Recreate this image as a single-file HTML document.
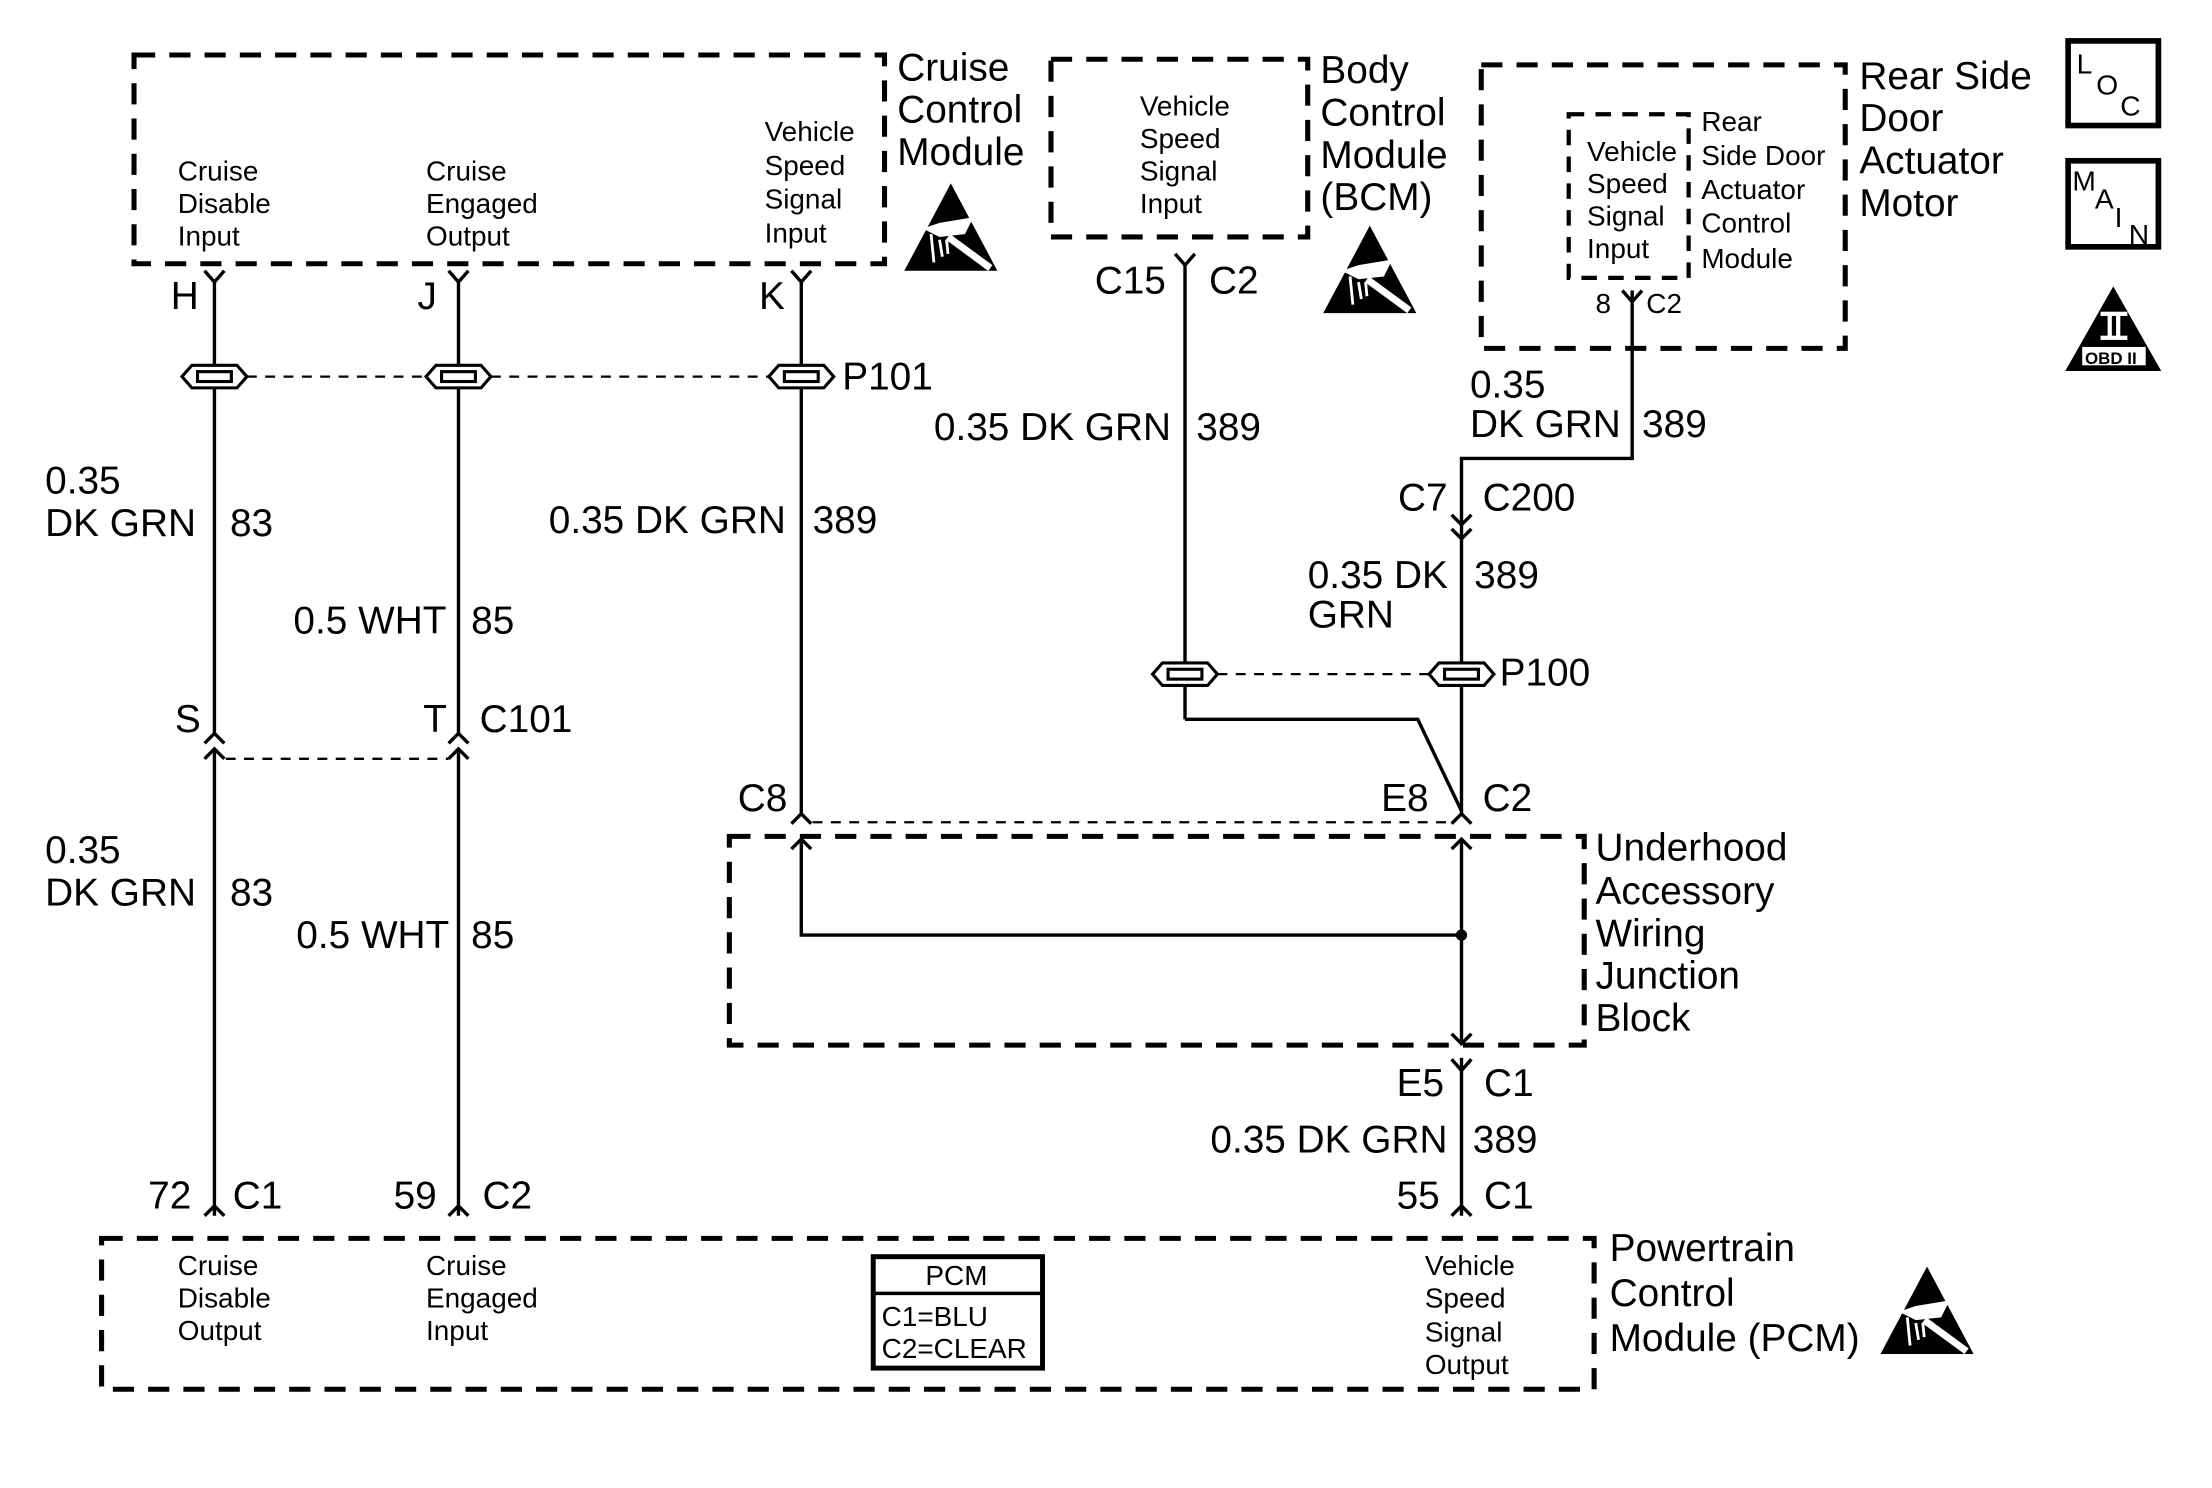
<!DOCTYPE html>
<html><head><meta charset="utf-8"><style>
html,body{margin:0;padding:0;background:#fff}
svg{display:block}
text{font-family:"Liberation Sans",Arial,sans-serif;fill:#000}
.b{font-size:27.5px}
.s{font-size:19.8px}
.w{stroke:#000;stroke-width:2.4;fill:none}
.d{stroke:#000;stroke-width:3.6;fill:none;stroke-dasharray:15,10}
.t{stroke:#000;stroke-width:1.6;fill:none;stroke-dasharray:7,6}
.sp{stroke:#000;stroke-width:2.2;fill:#fff}
</style></head><body>
<svg width="2212" height="1488" viewBox="0 0 1568 1055" preserveAspectRatio="none" xmlns="http://www.w3.org/2000/svg">
<defs>
<g id="splice"><polygon class="sp" points="-23,0 -16,-8 16,-8 23,0 16,8 -16,8"/><rect class="sp" x="-12" y="-3.5" width="24" height="7"/></g>
<g id="ypin"><path class="w" d="M-7,-8 L0,0 L7,-8"/></g>
<g id="car"><path class="w" d="M-7,7 L0,0 L7,7"/></g>
<g id="arr"><path class="w" d="M-7,-7 L0,0 L7,-7"/></g>
<g id="esd"><polygon points="0,-32 33,30 -33,30" fill="#000"/><path d="M-20,0 L-8,-4 L16,-8 L10,4 L-8,6 Z" fill="#fff"/><path d="M-2,6 L28,28" stroke="#fff" stroke-width="5"/><path d="M-14,4 L-12,24 M-8,8 L-6,20 M-3,8 L-2,18" stroke="#fff" stroke-width="2"/></g>
</defs>

<rect class="d" x="95" y="39" width="532" height="148"/>
<text class="b" x="636" y="57">Cruise</text><text class="b" x="636" y="87">Control</text><text class="b" x="636" y="117">Module</text>
<use href="#esd" x="674" y="162"/>
<text class="s" x="126" y="128">Cruise</text><text class="s" x="126" y="151">Disable</text><text class="s" x="126" y="174">Input</text>
<text class="s" x="302" y="128">Cruise</text><text class="s" x="302" y="151">Engaged</text><text class="s" x="302" y="174">Output</text>
<text class="s" x="542" y="100">Vehicle</text><text class="s" x="542" y="124">Speed</text><text class="s" x="542" y="148">Signal</text><text class="s" x="542" y="172">Input</text>

<rect class="d" x="745" y="42" width="182" height="126"/>
<text class="b" x="936" y="59">Body</text><text class="b" x="936" y="89">Control</text><text class="b" x="936" y="119">Module</text><text class="b" x="936" y="149">(BCM)</text>
<use href="#esd" x="971" y="192"/>
<text class="s" x="808" y="82">Vehicle</text><text class="s" x="808" y="105">Speed</text><text class="s" x="808" y="128">Signal</text><text class="s" x="808" y="151">Input</text>

<rect class="d" x="1050" y="46" width="258" height="201"/>
<rect class="d" x="1112" y="81" width="85" height="116" style="stroke-width:3;stroke-dasharray:11,8"/>
<text class="b" x="1318" y="63">Rear Side</text><text class="b" x="1318" y="93">Door</text><text class="b" x="1318" y="123">Actuator</text><text class="b" x="1318" y="153">Motor</text>
<text class="s" x="1125" y="114">Vehicle</text><text class="s" x="1125" y="137">Speed</text><text class="s" x="1125" y="160">Signal</text><text class="s" x="1125" y="183">Input</text>
<text class="s" x="1206" y="93">Rear</text><text class="s" x="1206" y="117">Side Door</text><text class="s" x="1206" y="141">Actuator</text><text class="s" x="1206" y="165">Control</text><text class="s" x="1206" y="190">Module</text>
<text class="s" x="1131" y="222">8</text><text class="s" x="1167" y="222">C2</text>

<rect x="1466" y="29" width="64" height="60" fill="none" stroke="#000" stroke-width="4"/>
<text x="1472" y="52" style="font-size:20px">L</text><text x="1486" y="67" style="font-size:20px">O</text><text x="1503" y="82" style="font-size:20px">C</text>
<rect x="1466" y="114" width="64" height="61" fill="none" stroke="#000" stroke-width="4"/>
<text x="1469" y="135" style="font-size:20px">M</text><text x="1485" y="148" style="font-size:20px">A</text><text x="1499" y="161" style="font-size:20px">I</text><text x="1509" y="173" style="font-size:20px">N</text>
<polygon points="1498,203 1532,263 1464,263" fill="#000"/>
<rect x="1489" y="221" width="19" height="3" fill="#fff"/><rect x="1489" y="238" width="19" height="3" fill="#fff"/>
<rect x="1494" y="223" width="3" height="16" fill="#fff"/><rect x="1500" y="223" width="3" height="16" fill="#fff"/>
<rect x="1476" y="246" width="45" height="13" fill="#fff"/>
<text x="1478" y="258" style="font-size:12px;font-weight:bold">OBD II</text>

<line class="w" x1="152" y1="200" x2="152" y2="520"/><use href="#ypin" x="152" y="200"/>
<line class="w" x1="152" y1="531" x2="152" y2="862"/>
<use href="#car" x="152" y="520"/><use href="#car" x="152" y="531"/><use href="#car" x="152" y="855"/>
<line class="w" x1="325" y1="200" x2="325" y2="520"/><use href="#ypin" x="325" y="200"/>
<line class="w" x1="325" y1="531" x2="325" y2="862"/>
<use href="#car" x="325" y="520"/><use href="#car" x="325" y="531"/><use href="#car" x="325" y="855"/>
<line class="w" x1="568" y1="200" x2="568" y2="577"/><use href="#ypin" x="568" y="200"/>
<use href="#car" x="568" y="577"/>
<line class="t" x1="175" y1="267" x2="302" y2="267"/><line class="t" x1="348" y1="267" x2="545" y2="267"/>
<use href="#splice" x="152" y="267"/><use href="#splice" x="325" y="267"/><use href="#splice" x="568" y="267"/>
<line class="t" x1="160" y1="538" x2="318" y2="538"/>
<line class="t" x1="576" y1="583" x2="1028" y2="583"/>

<text class="b" x="121" y="219">H</text><text class="b" x="296" y="219">J</text><text class="b" x="538" y="219">K</text>
<text class="b" x="597" y="276">P101</text>
<text class="b" x="32" y="350">0.35</text><text class="b" x="32" y="380">DK GRN</text><text class="b" x="163" y="380">83</text>
<text class="b" x="208" y="449">0.5 WHT</text><text class="b" x="334" y="449">85</text>
<text class="b" x="389" y="378">0.35 DK GRN</text><text class="b" x="576" y="378">389</text>
<text class="b" x="124" y="519">S</text><text class="b" x="300" y="519">T</text><text class="b" x="340" y="519">C101</text>
<text class="b" x="32" y="612">0.35</text><text class="b" x="32" y="642">DK GRN</text><text class="b" x="163" y="642">83</text>
<text class="b" x="210" y="672">0.5 WHT</text><text class="b" x="334" y="672">85</text>
<text class="b" x="523" y="575">C8</text>
<text class="b" x="105" y="857">72</text><text class="b" x="165" y="857">C1</text>
<text class="b" x="279" y="857">59</text><text class="b" x="342" y="857">C2</text>

<line class="w" x1="840" y1="188" x2="840" y2="510"/><use href="#ypin" x="840" y="188"/>
<polyline class="w" points="840,510 1005,510 1036,575"/>
<text class="b" x="776" y="208">C15</text><text class="b" x="857" y="208">C2</text>
<text class="b" x="662" y="312">0.35 DK GRN</text><text class="b" x="848" y="312">389</text>

<polyline class="w" points="1157,206 1157,325 1036,325 1036,577"/><use href="#ypin" x="1157" y="214"/>
<use href="#arr" x="1036" y="372"/><use href="#arr" x="1036" y="382"/>
<text class="b" x="1042" y="282">0.35</text><text class="b" x="1042" y="310">DK GRN</text><text class="b" x="1164" y="310">389</text>
<text class="b" x="991" y="362">C7</text><text class="b" x="1051" y="362">C200</text>
<text class="b" x="927" y="417">0.35 DK</text><text class="b" x="927" y="445">GRN</text><text class="b" x="1045" y="417">389</text>
<line class="t" x1="863" y1="478" x2="1013" y2="478"/>
<use href="#splice" x="840" y="478"/><use href="#splice" x="1036" y="478"/>
<text class="b" x="1063" y="486">P100</text>
<use href="#car" x="1036" y="577"/>
<text class="b" x="979" y="575">E8</text><text class="b" x="1051" y="575">C2</text>

<rect class="d" x="517" y="593" width="606" height="148"/>
<text class="b" x="1131" y="610">Underhood</text><text class="b" x="1131" y="641">Accessory</text><text class="b" x="1131" y="671">Wiring</text><text class="b" x="1131" y="701">Junction</text><text class="b" x="1131" y="731">Block</text>
<polyline class="w" points="568,595 568,663 1036,663"/><use href="#car" x="568" y="595"/>
<line class="w" x1="1036" y1="595" x2="1036" y2="740"/><use href="#car" x="1036" y="595"/><use href="#arr" x="1036" y="740"/>
<circle cx="1036" cy="663" r="4"/>
<line class="w" x1="1036" y1="750" x2="1036" y2="862"/><use href="#ypin" x="1036" y="759"/>
<text class="b" x="990" y="777">E5</text><text class="b" x="1052" y="777">C1</text>
<text class="b" x="858" y="817">0.35 DK GRN</text><text class="b" x="1044" y="817">389</text>
<use href="#car" x="1036" y="855"/>
<text class="b" x="990" y="857">55</text><text class="b" x="1052" y="857">C1</text>

<rect class="d" x="72" y="878" width="1058" height="107"/>
<text class="b" x="1141" y="894">Powertrain</text><text class="b" x="1141" y="926">Control</text><text class="b" x="1141" y="958">Module (PCM)</text>
<use href="#esd" x="1366" y="930"/>
<text class="s" x="126" y="904">Cruise</text><text class="s" x="126" y="927">Disable</text><text class="s" x="126" y="950">Output</text>
<text class="s" x="302" y="904">Cruise</text><text class="s" x="302" y="927">Engaged</text><text class="s" x="302" y="950">Input</text>
<text class="s" x="1010" y="904">Vehicle</text><text class="s" x="1010" y="927">Speed</text><text class="s" x="1010" y="951">Signal</text><text class="s" x="1010" y="974">Output</text>
<rect x="619" y="891" width="120" height="79" fill="none" stroke="#000" stroke-width="3.5"/>
<line x1="619" y1="917" x2="739" y2="917" stroke="#000" stroke-width="2.5"/>
<text class="s" x="656" y="911">PCM</text>
<text class="s" x="625" y="940">C1=BLU</text><text class="s" x="625" y="963">C2=CLEAR</text>
</svg>
</body></html>
